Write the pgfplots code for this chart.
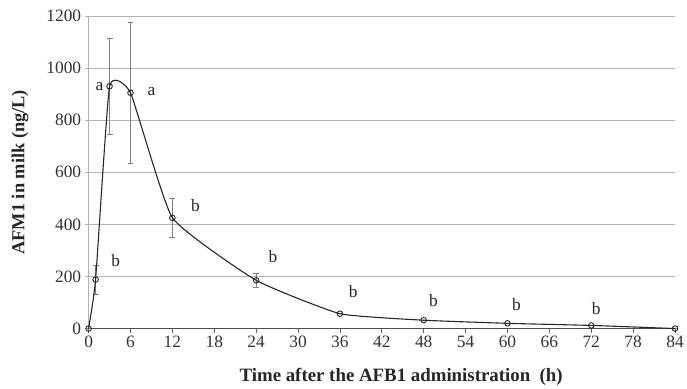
\documentclass[border=0pt]{standalone}
\usepackage{pgfplots}
\pgfplotsset{compat=1.18}
\usepackage{fontspec}
\setmainfont{Liberation Serif}
\begin{document}
\begin{tikzpicture}
\pgfplotstableread{
t   y    e
0   0    0
1   188  55
3   930  185
6   905  270
12  425  75
24  185  25
36  57   0
48  32   0
60  20   0
72  12   0
84  0    0
}\data
\begin{axis}[
  scale only axis, width=589bp, height=314bp,
  xmin=0, xmax=84, ymin=0, ymax=1200,
  xtick={0,6,...,84}, ytick={0,200,...,1200},
  axis x line*=bottom, axis y line*=left,
  x axis line style={-, draw=black!70, line width=0.8pt},
  y axis line style={-, draw=gray!60, line width=0.8pt},
  ymajorgrids, grid style={gray!60, line width=0.8pt},
  tick align=outside, major tick length=4bp,
  xtick style={draw=black!60, line width=0.7pt},
  ytick style={draw=gray!60, line width=0.8pt},
  tick label style={font=\fontsize{17.5}{20}\selectfont, text=black!80},
  /pgf/number format/assume math mode=true,
  /pgf/number format/1000 sep={},
  xlabel={Time after the AFB1 administration\ \ (h)},
  ylabel={AFM1 in milk (ng/L)},
  xlabel style={font=\fontsize{19}{21}\selectfont\bfseries, text=black!85,
    at={(axis description cs:0.533,-0.153)}, anchor=center},
  ylabel style={font=\fontsize{18.5}{21}\selectfont\bfseries, text=black!85,
    at={(axis description cs:-0.117,0.5)}, anchor=center},
  clip=false,
]
\coordinate (ll) at (rel axis cs:0,0);
\coordinate (ur) at (rel axis cs:1,1);
\addplot[draw=none, mark=none, forget plot,
  error bars/.cd, y dir=both, y explicit,
  error bar style={draw=black!50, line width=0.7pt},
  error mark options={draw=black!50, line width=0.7pt, mark size=3bp, rotate=90}]
  table[x=t, y=y, y error=e]{\data};
\addplot[smooth, tension=0.25, black!85, line width=1.1pt,
  mark=o, mark size=2.8bp, mark options={fill=white, line width=0.9pt, solid}]
  table[x=t, y=y]{\data};
\begin{scope}[every node/.style={font=\fontsize{17.5}{20}\selectfont, text=black!85}]
\node at (axis cs:1.57,929) {a};
\node at (axis cs:9,909) {a};
\node at (axis cs:3.9,260) {b};
\node at (axis cs:15.3,474) {b};
\node at (axis cs:26.4,275) {b};
\node at (axis cs:37.9,141) {b};
\node at (axis cs:49.4,107) {b};
\node at (axis cs:61.3,92) {b};
\node at (axis cs:72.7,76) {b};
\end{scope}
\end{axis}
\path (ll) ++(-89bp,-57bp) coordinate (bbA);
\path (ur) ++(9bp,16bp) coordinate (bbB);
\path (bbA) rectangle (bbB);
\end{tikzpicture}
\end{document}
